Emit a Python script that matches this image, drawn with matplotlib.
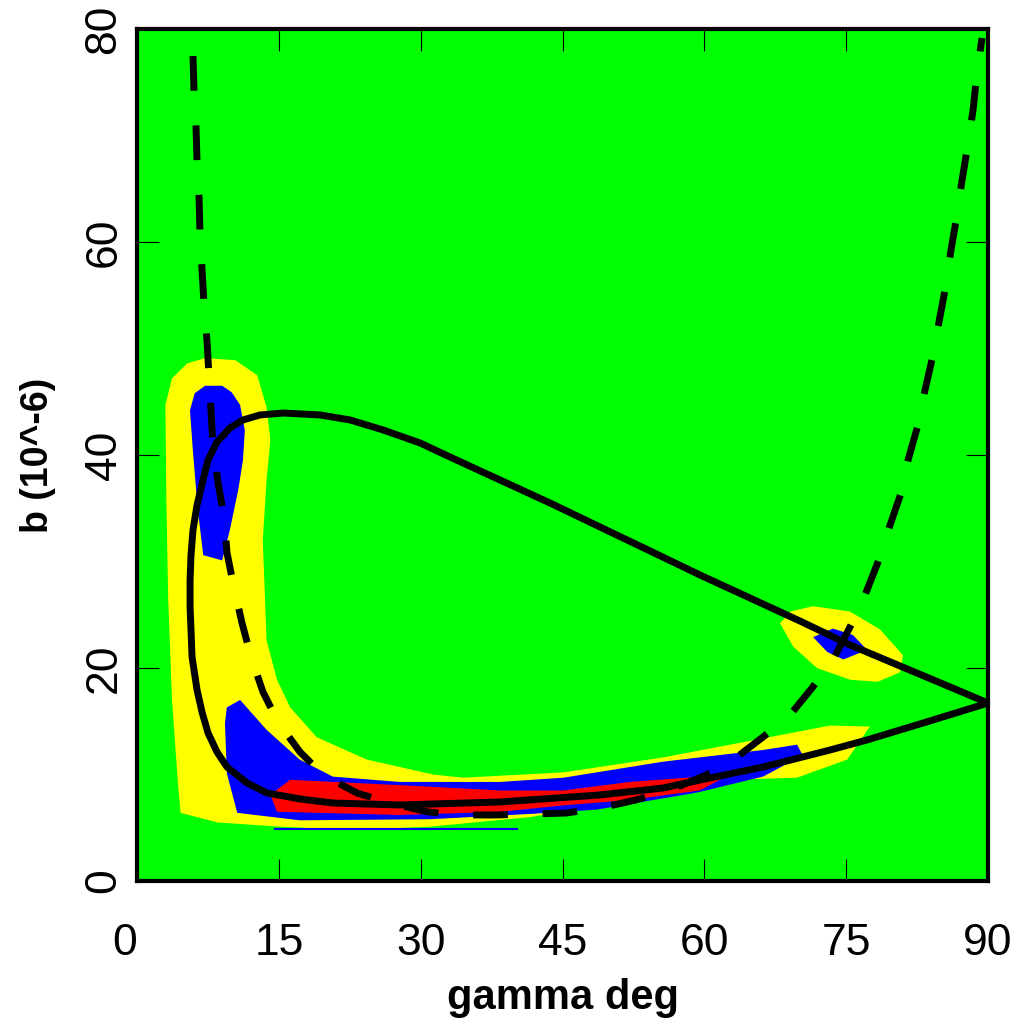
import matplotlib.pyplot as plt

# fonts
plt.rcParams['font.family'] = ['Liberation Sans Narrow', 'Liberation Sans', 'DejaVu Sans']

# confidence regions (gamma deg, b 10^-6)
yellow_main_x = [7.2, 5.3, 3.7, 3.0, 3.1, 3.3, 3.7, 4.3, 4.6, 8.5, 15.1, 22.5, 31.0, 41.6, 52.1, 62.7, 69.8,
                 75.1, 77.5, 73.3, 64.5, 55.6, 45.1, 34.5, 31.3, 24.3, 19.0, 16.2, 14.8, 13.7, 13.3, 13.7,
                 14.1, 13.7, 12.7, 10.4]
yellow_main_y = [49.1, 48.6, 47.2, 44.7, 35.8, 26.4, 17.0, 9.5, 6.4, 5.5, 5.1, 4.8, 5.1, 6.0, 7.6, 9.5, 9.7,
                 11.4, 14.5, 14.6, 13.1, 11.6, 10.2, 9.7, 10.0, 11.4, 13.5, 16.3, 18.9, 22.6, 32.0, 37.7,
                 41.4, 44.5, 47.5, 48.9]
yellow_right_x = [68.0, 69.1, 71.5, 75.4, 78.6, 81.0, 80.7, 78.3, 75.4, 71.9, 69.4]
yellow_right_y = [24.2, 25.3, 25.8, 25.3, 23.6, 21.2, 19.6, 18.7, 18.9, 20.0, 22.0]

blue_left_x = [7.2, 9.0, 10.0, 10.9, 11.4, 11.2, 10.7, 9.8, 9.0, 7.0, 6.4, 5.9, 5.6, 6.1]
blue_left_y = [46.5, 46.5, 45.9, 44.7, 42.3, 39.5, 36.7, 32.9, 30.1, 30.6, 35.1, 40.5, 44.2, 45.8]
blue_low_x = [9.5, 10.9, 13.7, 17.2, 20.7, 27.8, 38.4, 45.1, 55.6, 66.2, 69.8, 70.4, 66.2, 59.2, 48.6,
              41.6, 31.0, 17.2, 10.6, 9.5, 9.3]
blue_low_y = [16.3, 17.0, 14.2, 11.4, 9.8, 9.3, 9.3, 9.7, 11.2, 12.3, 12.8, 11.8, 9.8, 8.3, 6.7,
              6.3, 5.8, 5.7, 6.4, 10.1, 14.8]
blue_right_x = [71.5, 73.6, 75.7, 77.2, 74.7, 73.0]
blue_right_y = [22.9, 23.7, 23.1, 21.7, 20.8, 21.5]
blue_line_x = [14.6, 40.2]
blue_line_y = [4.9, 4.9]

red_x = [14.1, 16.2, 27.8, 38.4, 45.1, 52.1, 62.7, 59.5, 52.1, 45.1, 38.4, 27.8, 14.8]
red_y = [8.1, 9.5, 9.0, 8.5, 8.5, 9.3, 10.0, 8.5, 7.6, 7.1, 6.5, 6.2, 6.5]

# solid curve
solid_x = [90.0, 85.98, 80.69, 75.40, 70.11, 64.83, 59.54, 54.25, 48.96, 43.68, 38.39, 33.10, 29.93,
           26.02, 22.53, 19.35, 15.44, 13.01, 11.21, 9.84, 8.46, 7.51, 6.98, 6.35, 5.92, 5.71, 5.61,
           5.61, 5.71, 5.82, 6.35, 6.87, 7.51, 8.46, 9.52, 11.63, 13.75, 17.24, 20.73, 27.81, 38.39,
           48.96, 55.63, 59.54, 66.20, 73.29, 77.20, 84.18, 90.0]
solid_y = [16.71, 18.22, 20.19, 22.16, 24.41, 26.57, 28.73, 30.99, 33.24, 35.49, 37.65, 39.81, 41.13,
           42.35, 43.29, 43.76, 43.94, 43.76, 43.29, 42.54, 41.22, 39.53, 37.65, 35.31, 32.96, 30.61,
           28.26, 25.73, 23.57, 21.03, 17.93, 15.87, 13.90, 12.11, 10.70, 9.20, 8.26, 7.70, 7.32, 7.14,
           7.42, 8.08, 8.73, 9.48, 10.70, 12.30, 13.24, 15.12, 16.71]

# dashed curve
dash_x = [5.92, 6.03, 6.24, 6.35, 6.56, 6.66, 6.87, 7.09, 7.40, 7.61, 7.83, 8.04, 8.57, 9.20, 9.52,
          10.26, 11.10, 12.06, 13.32, 14.91, 17.24, 19.67, 23.27, 26.76, 30.77, 34.16, 38.07, 41.56,
          45.37, 48.96, 52.77, 56.37, 60.17, 63.03, 66.20, 69.06, 71.38, 73.60, 75.40, 76.99, 78.36,
          79.53, 80.80, 81.54, 82.59, 83.33, 84.18, 84.81, 85.55, 86.08, 86.72, 87.25, 87.88, 88.41,
          88.83, 89.36]
dash_y = [77.46, 74.08, 70.80, 67.42, 64.13, 60.75, 57.46, 54.08, 50.70, 47.42, 44.04, 40.75, 37.37,
          34.18, 30.80, 27.51, 24.23, 21.03, 17.75, 14.93, 12.11, 9.95, 8.26, 7.32, 6.48, 6.20, 6.20,
          6.29, 6.38, 6.85, 7.61, 8.54, 9.95, 11.36, 13.52, 15.59, 18.12, 20.75, 23.85, 26.85, 29.95,
          33.15, 36.43, 39.53, 42.82, 46.10, 49.39, 52.49, 55.96, 59.25, 62.54, 65.82, 69.20, 72.39,
          75.87, 79.15]

x_ticks = [0, 15, 30, 45, 60, 75, 90]
y_ticks = [0, 20, 40, 60, 80]

fig = plt.figure(figsize=(10.18, 10.28), dpi=100)
ax = fig.add_axes([0.1346, 0.1430, 0.836, 0.8288])
ax.set_facecolor('#00ff00')

ax.fill(yellow_main_x, yellow_main_y, color='#ffff00', lw=0)
ax.fill(yellow_right_x, yellow_right_y, color='#ffff00', lw=0)
ax.fill(blue_left_x, blue_left_y, color='#0000ff', lw=0)
ax.fill(blue_low_x, blue_low_y, color='#0000ff', lw=0)
ax.fill(blue_right_x, blue_right_y, color='#0000ff', lw=0)
ax.plot(blue_line_x, blue_line_y, color='#0000ff', lw=1.5)
ax.fill(red_x, red_y, color='#ff0000', lw=0)

ax.plot(solid_x, solid_y, color='black', lw=5, solid_joinstyle='round')
ax.plot(dash_x, dash_y, color='black', lw=5, linestyle=(0, (5, 5)), dash_capstyle='butt')

ax.set_xlim(0, 90)
ax.set_ylim(0, 80)
ax.set_xticks(x_ticks)
ax.set_yticks(y_ticks)
ax.tick_params(direction='in', length=16, width=0.8, top=True, right=True, labelsize=32)
ax.tick_params(axis='x', pad=30)
ax.tick_params(axis='y', pad=9, labelrotation=90)
for lab in ax.get_yticklabels():
    lab.set_va('center')
ax.get_xticklabels()[0].set_ha('right')
for s in ax.spines.values():
    s.set_linewidth(3)

ax.set_xlabel('gamma deg', fontsize=30, fontweight='bold', labelpad=10)
ax.set_ylabel('b (10^-6)', fontsize=27, fontweight='bold', labelpad=20)

plt.savefig('out.png', dpi=100)
